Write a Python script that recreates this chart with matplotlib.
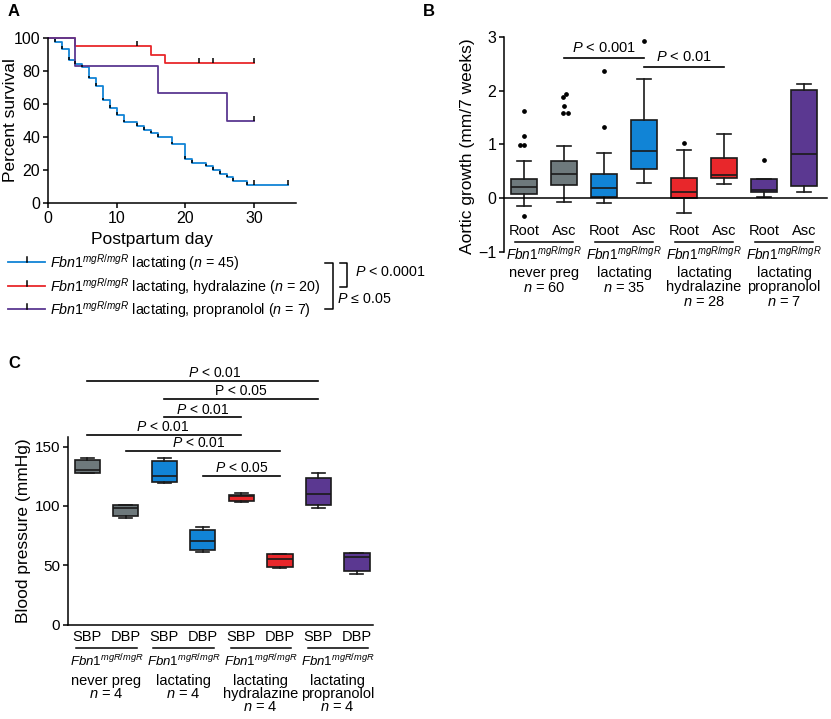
import matplotlib
matplotlib.use("Agg")
import matplotlib.pyplot as plt
import matplotlib.transforms as mtransforms

plt.rcParams['font.family'] = ['Liberation Sans', 'DejaVu Sans']
plt.rcParams['mathtext.fontset'] = 'custom'
plt.rcParams['mathtext.rm'] = 'Liberation Sans'
plt.rcParams['mathtext.it'] = 'Liberation Sans:italic'
plt.rcParams['mathtext.bf'] = 'Liberation Sans:bold'
plt.rcParams['axes.linewidth'] = 1.1

BLUE = '#1184d6'
RED = '#e8272b'
PURPLE = '#5b3891'
GRAY = '#6e797c'
FBN = r"$\mathit{Fbn1}^{\mathit{mgR}/\mathit{mgR}}$"

# ---- panel A: survival steps ----
lact_days = [0, 1, 2, 3, 4, 5, 6, 7, 8, 9, 10, 11, 13, 14, 15, 16, 18, 20, 21, 23, 24, 25, 26, 27, 29, 35]
lact_surv = [100, 97.8, 93.3, 86.7, 84.4, 82.2, 75.6, 71.1, 62.2, 57.8, 53.3, 48.9, 46.7, 44.4,
             42.2, 40.0, 35.6, 26.7, 24.4, 22.2, 20.0, 17.8, 15.6, 13.3, 11.1, 11.1]
lact_cens_days = [30, 35]
lact_cens_surv = [11.1, 11.1]

hyd_days = [0, 4, 15, 17, 30]
hyd_surv = [100, 95, 90, 85, 85]
hyd_cens_days = [13, 22, 24, 30]
hyd_cens_surv = [95, 85, 85, 85]

prop_days = [0, 4, 16, 26, 30]
prop_surv = [100, 83.3, 66.7, 50, 50]
prop_cens_days = [30]
prop_cens_surv = [50]

legend_a = [FBN + r" lactating ($\mathit{n}$ = 45)",
            FBN + r" lactating, hydralazine ($\mathit{n}$ = 20)",
            FBN + r" lactating, propranolol ($\mathit{n}$ = 7)"]

# ---- panel B: aortic growth boxes ----
b_labels = ['Root', 'Asc'] * 4
b_colors = [GRAY, GRAY, BLUE, BLUE, RED, RED, PURPLE, PURPLE]
b_med = [0.21, 0.45, 0.19, 0.88, 0.11, 0.44, 0.155, 0.82]
b_q1 = [0.08, 0.24, 0.02, 0.55, 0.0, 0.37, 0.12, 0.22]
b_q3 = [0.36, 0.69, 0.45, 1.46, 0.38, 0.75, 0.36, 2.02]
b_whislo = [-0.15, -0.07, -0.10, 0.28, -0.28, 0.26, 0.02, 0.12]
b_whishi = [0.70, 0.97, 0.85, 2.22, 0.90, 1.19, 0.36, 2.13]
b_fliers = [[1.63, 1.16, 0.99, 0.99, -0.33], [1.95, 1.88, 1.71, 1.58, 1.58],
            [2.37, 1.33], [2.93], [1.03], [], [0.72], []]
b_flier_dx = [[0, 0, -0.1, 0, 0], [0.06, -0.02, 0, -0.03, 0.09], [0, 0], [0], [0], [], [0], []]
b_groups = [["never preg", r"$\mathit{n}$ = 60"],
            ["lactating", r"$\mathit{n}$ = 35"],
            ["lactating", "hydralazine", r"$\mathit{n}$ = 28"],
            ["lactating", "propranolol", r"$\mathit{n}$ = 7"]]
b_sig = [(2, 4, 2.62, r"$\mathit{P}$ < 0.001"), (4, 6, 2.45, r"$\mathit{P}$ < 0.01")]

# ---- panel C: blood pressure boxes ----
c_labels = ['SBP', 'DBP'] * 4
c_colors = b_colors
c_med = [130.3, 98.0, 125.5, 70.5, 108.0, 55.1, 110.1, 56.8]
c_q1 = [127.8, 91.8, 119.8, 62.9, 103.8, 48.9, 100.8, 45.2]
c_q3 = [138.8, 100.8, 138.2, 79.8, 109.3, 59.6, 123.9, 60.0]
c_whislo = [127.5, 90.2, 119.5, 61.0, 103.6, 47.6, 98.6, 42.7]
c_whishi = [140.2, 100.8, 140.0, 82.6, 110.7, 59.6, 127.5, 60.1]
c_groups = [["never preg", r"$\mathit{n}$ = 4"],
            ["lactating", r"$\mathit{n}$ = 4"],
            ["lactating", "hydralazine", r"$\mathit{n}$ = 4"],
            ["lactating", "propranolol", r"$\mathit{n}$ = 4"]]
c_sig = [(1, 7, 205.3, 4.3, r"$\mathit{P}$ < 0.01"),
         (3, 7, 190.1, 5.0, "P < 0.05"),
         (3, 5, 174.7, 4.0, r"$\mathit{P}$ < 0.01"),
         (1, 5, 159.8, 2.95, r"$\mathit{P}$ < 0.01"),
         (2, 6, 146.3, 3.9, r"$\mathit{P}$ < 0.01"),
         (4, 6, 125.5, 5.0, r"$\mathit{P}$ < 0.05")]

W, H = 831, 719
fig = plt.figure(figsize=(W / 100, H / 100), dpi=100)


def px_axes(x0, y0, x1, y1):
    return fig.add_axes([x0 / W, 1 - y1 / H, (x1 - x0) / W, (y1 - y0) / H])


def style(ax, size):
    ax.spines['top'].set_visible(False)
    ax.spines['right'].set_visible(False)
    ax.tick_params(length=3.5, width=1.1, labelsize=size, pad=2, colors='black')


def boxes(ax, q1, med, q3, lo, hi, colors):
    pos = list(range(1, len(med) + 1))
    stats = [dict(q1=a, med=m, q3=b, whislo=l, whishi=h, fliers=[])
             for a, m, b, l, h in zip(q1, med, q3, lo, hi)]
    bp = ax.bxp(stats, positions=pos, widths=0.66, capwidths=0.34, patch_artist=True,
                showfliers=False, manage_ticks=False,
                boxprops=dict(lw=1.2, edgecolor='#1a1a1a'),
                medianprops=dict(color='#1a1a1a', lw=1.2),
                whiskerprops=dict(lw=1.2, color='#1a1a1a'),
                capprops=dict(lw=1.2, color='#1a1a1a'))
    for p, c in zip(bp['boxes'], colors):
        p.set_facecolor(c)
    return pos


# ---------------- Panel A ----------------
ax_a = px_axes(48, 38, 296, 203)
ax_a.set_xlim(0, 36.1)
ax_a.set_ylim(0, 100)
style(ax_a, 11.5)
ax_a.set_xticks([0, 10, 20, 30])
ax_a.set_yticks([0, 20, 40, 60, 80, 100])
for d, s, cd, cs, col in [(lact_days, lact_surv, lact_cens_days, lact_cens_surv, BLUE),
                          (hyd_days, hyd_surv, hyd_cens_days, hyd_cens_surv, RED),
                          (prop_days, prop_surv, prop_cens_days, prop_cens_surv, PURPLE)]:
    ax_a.step(d, s, where='post', color=col, lw=1.3, clip_on=False)
    ax_a.vlines(cd, cs, [v + 3 for v in cs], color='black', lw=1.1, clip_on=False)
ax_a.vlines(lact_days[1:-1], lact_surv[1:-1], [v + 1.6 for v in lact_surv[1:-1]],
            color='black', lw=1.1)
ax_a.set_xlabel("Postpartum day", fontsize=12.5)
ax_a.xaxis.set_label_coords((152 - 48) / 248, (203 - 232) / 165)
ax_a.set_ylabel("Percent survival", fontsize=12.5)
ax_a.yaxis.set_label_coords((18 - 48) / 248, 0.5)

# ---------------- Panel B ----------------
ax_b = px_axes(504, 37.3, 827, 251.7)
ax_b.set_xlim(0.5, 8.57)
ax_b.set_ylim(-1, 3)
style(ax_b, 11.5)
ax_b.spines['bottom'].set_position(('data', 0))
ax_b.spines['left'].set_bounds(-1, 3)
ax_b.set_xticks([])
ax_b.set_yticks([-1, 0, 1, 2, 3])
pos_b = boxes(ax_b, b_q1, b_med, b_q3, b_whislo, b_whishi, b_colors)
for p, fl, dx in zip(pos_b, b_fliers, b_flier_dx):
    ax_b.plot([p + d for d in dx], fl, 'o', ms=2.4, color='black', clip_on=False)
for a, b, y, lab in b_sig:
    ax_b.plot([a, b], [y, y], color='black', lw=1.2, clip_on=False)
    ax_b.text((a + b) / 2, y + 0.1, lab, ha='center', va='baseline', fontsize=10.5)
ax_b.set_ylabel("Aortic growth (mm/7 weeks)", fontsize=12.5)
ax_b.yaxis.set_label_coords((475 - 504) / 323, 0.49)

# ---------------- Panel C ----------------
ax_c = px_axes(68, 375.4, 373, 624.7)
ax_c.set_xlim(0.5, 8.42)
ax_c.set_ylim(0, 210)
style(ax_c, 11)
ax_c.spines['left'].set_bounds(0, 158)
ax_c.set_xticks([])
ax_c.set_yticks([0, 50, 100, 150])
pos_c = boxes(ax_c, c_q1, c_med, c_q3, c_whislo, c_whishi, c_colors)
for a, b, y, tx, lab in c_sig:
    ax_c.plot([a, b], [y, y], color='black', lw=1.2, clip_on=False)
    ax_c.text(tx, y + 3, lab, ha='center', va='baseline', fontsize=10)
ax_c.set_ylabel("Blood pressure (mmHg)", fontsize=12.5)
ax_c.yaxis.set_label_coords((31 - 68) / 305, 0.376)

# ---------------- overlay (pixel coords) ----------------
ov = fig.add_axes([0, 0, 1, 1], zorder=5)
ov.set_xlim(0, W)
ov.set_ylim(H, 0)
ov.axis('off')

for t, x, y in [("A", 8, 12), ("B", 423, 12), ("C", 8, 363)]:
    ov.text(x, y, t, fontsize=12, fontweight='bold', ha='left', va='center')

# panel A legend
for lab, col, y in zip(legend_a, [BLUE, RED, PURPLE], [262, 286, 309]):
    ov.plot([8, 45], [y, y], color=col, lw=1.3)
    ov.plot([27, 27], [y, y - 5], color='black', lw=1.1)
    ov.text(50, y + 1, lab, fontsize=10.3, ha='left', va='center')
ov.plot([325, 333, 333, 325], [263, 263, 309, 309], color='black', lw=1.1)
ov.plot([340, 347, 347, 340], [263, 263, 287, 287], color='black', lw=1.1)
ov.text(355, 272, r"$\mathit{P}$ < 0.0001", fontsize=10.3, ha='left', va='center')
ov.text(337, 299, r"$\mathit{P}$ ≤ 0.05", fontsize=10.3, ha='left', va='center')


def under_labels(ax, pos, labels, groups, size, fsize, y_lab, y_line, y_fbn, y_grp, dy, half):
    tr = mtransforms.blended_transform_factory(ax.transData, ov.transData)
    for p, lab in zip(pos, labels):
        ax.text(p, y_lab, lab, transform=tr, ha='center', va='center', fontsize=size)
    for g, lines in enumerate(groups):
        a, b = pos[2 * g], pos[2 * g + 1]
        ax.plot([a - half, b + half], [y_line, y_line], transform=tr, color='black',
                lw=1.1, clip_on=False)
        mid = (a + b) / 2
        ax.text(mid, y_fbn, FBN, transform=tr, ha='center', va='center', fontsize=fsize)
        for i, ln in enumerate(lines):
            ax.text(mid, y_grp + i * dy, ln, transform=tr, ha='center', va='center',
                    fontsize=size)


under_labels(ax_b, pos_b, b_labels, b_groups, 10.5, 9.8, 231, 242, 254, 273, 14.5, 0.23)
under_labels(ax_c, pos_c, c_labels, c_groups, 10.5, 9.5, 637, 648, 661, 681, 13, 0.28)

fig.savefig("out.png", dpi=100)
